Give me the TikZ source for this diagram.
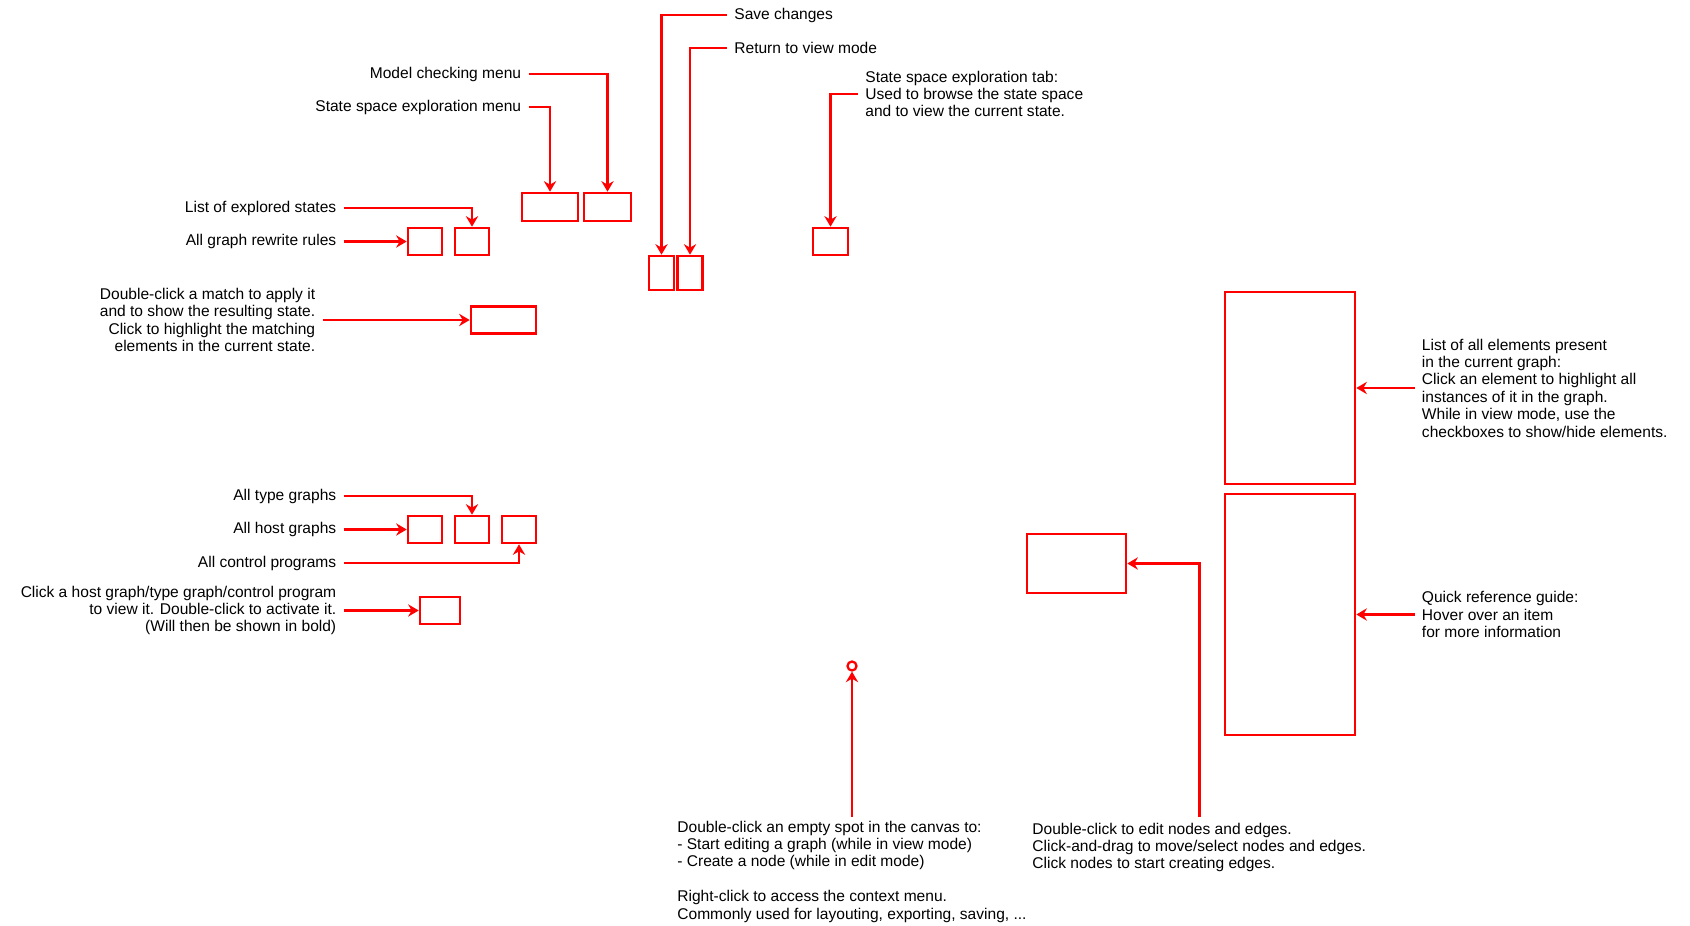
\documentclass[tikz,border=0pt]{standalone}
\usepackage{fontspec}
\setmainfont{Liberation Sans}
\usepackage{tikz}
\usetikzlibrary{arrows.meta}

\begin{document}
\begin{tikzpicture}[x=0.02cm, y=-0.02cm,
    panel/.style 2 args={draw=red, line width=1.5pt, inner sep=0pt,
      minimum width=#1*0.02cm, minimum height=#2*0.02cm},
    note/.style={inner xsep=4pt, inner ysep=2pt,
      font=\fontsize{8.85}{9.9}\selectfont},
    link/.style={draw=red, line width=1.3pt,
      -{Stealth[length=6pt, width=7pt, inset=2pt]}}]
  \useasboundingbox (0,0) rectangle (1690,926);

  \node [panel={56}{28}] (ssemenu) at (550,207) {};
  \node [panel={47}{28}] (mcmenu) at (607.5,207) {};
  \node [panel={25}{34}] (savebtn) at (661.5,273) {};
  \node [panel={25}{34}] (viewbtn) at (690,273) {};
  \node [panel={35}{27}] (ssetab) at (830.5,241.5) {};
  \node [panel={34}{27}] (rulestab) at (425,241.5) {};
  \node [panel={34}{27}] (statestab) at (472,241.5) {};
  \node [panel={65}{27}] (matchlist) at (503.5,320) {};
  \node [panel={34}{27}] (hosttab) at (425,529.5) {};
  \node [panel={34}{27}] (typetab) at (472,529.5) {};
  \node [panel={34}{27}] (ctrltab) at (519,529.5) {};
  \node [panel={40}{27}] (grammar) at (440,610.5) {};
  \node [panel={130}{192}] (elements) at (1290,388) {};
  \node [panel={130}{241}] (quickref) at (1290,614.5) {};
  \node [panel={99}{59}] (canvas) at (1076.5,563.5) {};
  \node [circle, draw=red, line width=1.3pt, inner sep=0pt,
    minimum size=0.18cm] (spot) at (852,666) {};

  \node [note, anchor=west] (savenote) at (727,15) {Save changes};
  \node [note, anchor=west] (viewnote) at (727,48) {Return to view mode};
  \node [note, anchor=east] (mcnote) at (528.5,74) {Model checking menu};
  \node [note, anchor=east] (ssenote) at (528.5,107)
    {State space exploration menu};
  \node [note, anchor=west, align=left] (tabnote) at (858,94)
    {State space exploration tab:\\Used to browse the state space\\
     and to view the current state.};
  \node [note, anchor=east] (statesnote) at (343.6,208)
    {List of explored states};
  \node [note, anchor=east] (rulesnote) at (343.6,241.5)
    {All graph rewrite rules};
  \node [note, anchor=east, align=right] (matchnote) at (322.5,320)
    {Double-click a match to apply it\\and to show the resulting state.\\
     Click to highlight the matching\\elements in the current state.};
  \node [note, anchor=east] (typenote) at (343.6,496) {All type graphs};
  \node [note, anchor=east] (hostnote) at (343.6,529.5) {All host graphs};
  \node [note, anchor=east] (ctrlnote) at (343.6,563)
    {All control programs};
  \node [note, anchor=east, align=right] (gramnote) at (343.6,610.5)
    {Click a host graph/type graph/control program\\
     to view it. Double-click to activate it.\\(Will then be shown in bold)};
  \node [note, anchor=west, align=left] (elemnote) at (1414.6,388)
    {List of all elements present\\in the current graph:\\
     Click an element to highlight all\\instances of it in the graph.\\
     While in view mode, use the\\checkboxes to show/hide elements.};
  \node [note, anchor=west, align=left] (quicknote) at (1414.6,614.5)
    {Quick reference guide:\\Hover over an item\\for more information};
  \node [note, anchor=north west, align=left] (emptynote) at (670,817)
    {Double-click an empty spot in the canvas to:\\
     - Start editing a graph (while in view mode)\\
     - Create a node (while in edit mode)\\[9.9pt]
     Right-click to access the context menu.\\
     Commonly used for layouting, exporting, saving, ...};
  \node [note, anchor=north west, align=left] (editnote) at (1025,819)
    {Double-click to edit nodes and edges.\\
     Click-and-drag to move/select nodes and edges.\\
     Click nodes to start creating edges.};
  \coordinate (editfoot) at (1199.4,817);

  \draw [link] (savenote.west) -| (savebtn.north);
  \draw [link] (viewnote.west) -| (viewbtn.north);
  \draw [link] (mcnote.east) -| (mcmenu.north);
  \draw [link] (ssenote.east) -| (ssemenu.north);
  \draw [link] (tabnote.west) -| (ssetab.north);
  \draw [link] (statesnote.east) -| (statestab.north);
  \draw [link] (rulesnote.east) -- (rulestab.west);
  \draw [link] (matchnote.east) -- (matchlist.west);
  \draw [link] (typenote.east) -| (typetab.north);
  \draw [link] (hostnote.east) -- (hosttab.west);
  \draw [link] (ctrlnote.east) -| (ctrltab.south);
  \draw [link] (gramnote.east) -- (grammar.west);
  \draw [link] (elemnote.west) -- (elements.east);
  \draw [link] (quicknote.west) -- (quickref.east);
  \draw [link] (emptynote.north -| spot) -- (spot.south);
  \draw [link] (editfoot) |- (canvas.east);
\end{tikzpicture}
\end{document}
